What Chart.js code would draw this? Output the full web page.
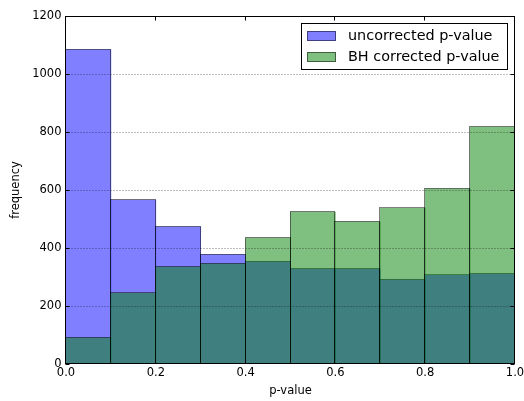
<!DOCTYPE html>
<html>
<head>
<meta charset="utf-8">
<script src="https://cdn.jsdelivr.net/npm/chart.js@4"></script>
<style>
  html, body { margin: 0; padding: 0; background: #fff; }
</style>
</head>
<body>
<canvas id="chart" width="524" height="401"></canvas>
<script>
// histogram bins (p-value), width 0.1
const binCenters = [0.05, 0.15, 0.25, 0.35, 0.45, 0.55, 0.65, 0.75, 0.85, 0.95];
const uncorrected = [1084, 565, 473, 377, 352, 327, 327, 290, 306, 310];
const bhCorrected = [90, 244, 334, 345, 434, 524, 490, 537, 604, 817];

const xTicks = [0, 0.2, 0.4, 0.6, 0.8, 1.0];
const yTicks = [0, 200, 400, 600, 800, 1000, 1200];
const seriesNames = ["uncorrected p-value", "BH corrected p-value"];

const FONT = "'DejaVu Sans', sans-serif";
const BLUE = "rgba(0, 0, 255, 0.5)";
const GREEN = "rgba(0, 128, 0, 0.5)";
const EDGE = "rgba(0, 0, 0, 0.5)";

// matplotlib style frame: bar outlines, dotted grid over the bars, inward ticks on all sides
const framePlugin = {
  id: "frame",
  afterDatasetDraw(chart, args) {
    // outline each bar right after its dataset is filled, so edges share one pixel
    const ctx = chart.ctx;
    ctx.save();
    ctx.strokeStyle = EDGE;
    ctx.lineWidth = 1;
    args.meta.data.forEach((bar) => {
      const p = bar.getProps(["x", "y", "base", "width"], true);
      const l = Math.round(p.x - p.width / 2) - 0.5;
      const r = Math.round(p.x + p.width / 2) - 0.5;
      const t = Math.round(p.y) - 0.5;
      const b = Math.round(p.base) - 0.5;
      ctx.strokeRect(l, t, r - l, b - t);
    });
    ctx.restore();
  },
  afterDatasetsDraw(chart) {
    const { ctx, chartArea: a, scales } = chart;
    const L = Math.round(a.left) - 0.5;
    const R = Math.round(a.right) - 0.5;
    const T = Math.round(a.top) + 0.5;
    const B = Math.round(a.bottom) - 0.5;
    ctx.save();
    ctx.lineWidth = 1;

    ctx.strokeStyle = "rgba(0,0,0,0.5)";
    ctx.setLineDash([1, 2]);
    yTicks.forEach((v) => {
      if (v <= 0 || v >= 1200) return;
      const py = Math.round(scales.y.getPixelForValue(v)) + 0.5;
      ctx.beginPath();
      ctx.moveTo(L, py);
      ctx.lineTo(R, py);
      ctx.stroke();
    });
    ctx.setLineDash([]);

    ctx.strokeStyle = "#000";
    xTicks.forEach((v) => {
      const px = Math.round(scales.x.getPixelForValue(v)) - 0.5;
      ctx.beginPath();
      ctx.moveTo(px, B);
      ctx.lineTo(px, B - 4);
      ctx.moveTo(px, T);
      ctx.lineTo(px, T + 4);
      ctx.stroke();
    });
    yTicks.forEach((v) => {
      const py = Math.round(scales.y.getPixelForValue(v)) + 0.5;
      ctx.beginPath();
      ctx.moveTo(L, py);
      ctx.lineTo(L + 4, py);
      ctx.moveTo(R, py);
      ctx.lineTo(R - 4, py);
      ctx.stroke();
    });

    ctx.strokeRect(L, T, R - L, B - T);
    ctx.restore();
  },
  afterDraw(chart) {
    // legend box in the upper right corner of the axes
    const { ctx, chartArea: a } = chart;
    const boxR = Math.round(a.right) - 7;
    const boxL = boxR - 206;
    const boxT = Math.round(a.top) + 8;
    const boxH = 46;
    ctx.save();
    ctx.fillStyle = "#fff";
    ctx.fillRect(boxL, boxT, 206, boxH);
    ctx.strokeStyle = "#000";
    ctx.lineWidth = 1;
    ctx.strokeRect(boxL - 0.5, boxT - 0.5, 206, boxH);

    const colors = [BLUE, GREEN];
    ctx.font = "14.4px " + FONT;
    ctx.textBaseline = "middle";
    seriesNames.forEach((name, i) => {
      const sy = boxT + 7 + i * 21;
      ctx.fillStyle = colors[i];
      ctx.fillRect(boxL + 5, sy, 29, 10);
      ctx.strokeStyle = EDGE;
      ctx.strokeRect(boxL + 5.5, sy + 0.5, 28, 9);
      ctx.fillStyle = "#000";
      ctx.fillText(name, boxL + 46, sy + 5.5);
    });
    ctx.restore();
  },
};

new Chart(document.getElementById("chart"), {
  type: "bar",
  data: {
    datasets: [
      {
        label: seriesNames[0],
        data: binCenters.map((x, i) => ({ x: x, y: uncorrected[i] })),
        backgroundColor: BLUE,
        borderWidth: 0,
        order: 1,
      },
      {
        label: seriesNames[1],
        data: binCenters.map((x, i) => ({ x: x, y: bhCorrected[i] })),
        backgroundColor: GREEN,
        borderWidth: 0,
        order: 0,
      },
    ],
  },
  options: {
    responsive: false,
    animation: false,
    devicePixelRatio: 1,
    grouped: false,
    barPercentage: 1,
    categoryPercentage: 1,
    layout: { padding: { top: 16, right: 9, left: 0, bottom: 0 } },
    plugins: {
      legend: { display: false },
      tooltip: { enabled: false },
    },
    scales: {
      x: {
        type: "linear",
        min: 0,
        max: 1,
        offset: false,
        afterBuildTicks: (s) => { s.ticks = xTicks.map((v) => ({ value: v })); },
        afterFit: (s) => { s.height = 37; s.paddingLeft = 0; s.paddingRight = 0; },
        grid: { display: false, drawTicks: false },
        border: { display: false },
        ticks: {
          padding: 2.6,
          color: "#000",
          font: { family: FONT, size: 11.5 },
          maxRotation: 0,
          callback: (v) => Number(v).toFixed(1),
        },
        title: {
          display: true,
          text: "p-value",
          color: "#000",
          font: { family: FONT, size: 11.5 },
          padding: { top: 0, bottom: 2.6 },
        },
      },
      y: {
        min: 0,
        max: 1200,
        afterBuildTicks: (s) => { s.ticks = yTicks.map((v) => ({ value: v })); },
        afterFit: (s) => { s.width = 66; s.paddingTop = 0; s.paddingBottom = 0; },
        grid: { display: false, drawTicks: false },
        border: { display: false },
        ticks: {
          padding: 4.5,
          color: "#000",
          font: { family: FONT, size: 11.5 },
          callback: (v) => String(v),
        },
        title: {
          display: true,
          text: "frequency",
          color: "#000",
          font: { family: FONT, size: 11.5 },
          padding: { top: 9.6, bottom: 0 },
        },
      },
    },
  },
  plugins: [framePlugin],
});
</script>
</body>
</html>
